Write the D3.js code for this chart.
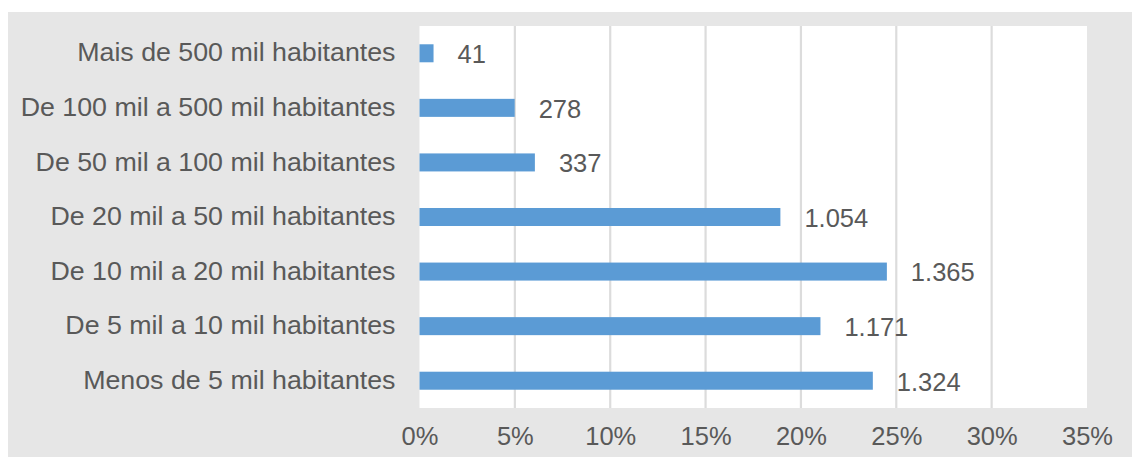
<!DOCTYPE html>
<html>
<head>
<meta charset="utf-8">
<script src="https://cdn.jsdelivr.net/npm/d3@7"></script>
<style>
  html, body { margin: 0; padding: 0; background: #ffffff; }
  svg { display: block; }
  text { font-family: "Liberation Sans", Arial, sans-serif; fill: #595959; }
</style>
</head>
<body>
<svg id="chart" width="1132" height="457"></svg>
<script>
// Municípios por faixa de população
const categories = [
  "Mais de 500 mil habitantes",
  "De 100 mil a 500 mil habitantes",
  "De 50 mil a 100 mil habitantes",
  "De 20 mil a 50 mil habitantes",
  "De 10 mil a 20 mil habitantes",
  "De 5 mil a 10 mil habitantes",
  "Menos de 5 mil habitantes"
];
const counts = [41, 278, 337, 1054, 1365, 1171, 1324];
const tickValues = [0, 0.05, 0.10, 0.15, 0.20, 0.25, 0.30, 0.35];

const total = d3.sum(counts);
const rows = categories.map((c, i) => ({ category: c, count: counts[i], share: counts[i] / total }));

const ptBR = d3.formatLocale({ decimal: ",", thousands: ".", grouping: [3], currency: ["R$", ""] });
const fmtCount = ptBR.format(",d");
const fmtPct = d3.format(".0%");

const W = 1132, H = 457;
const plot = { left: 419.5, right: 1087, top: 26, bottom: 408 };

const svg = d3.select("#chart");

// panel background
svg.append("rect").attr("x", 8).attr("y", 12).attr("width", W - 8).attr("height", H - 12).attr("fill", "#e6e6e6");
svg.append("rect")
  .attr("x", plot.left).attr("y", plot.top)
  .attr("width", plot.right - plot.left).attr("height", plot.bottom - plot.top)
  .attr("fill", "#ffffff");

const x = d3.scaleLinear().domain([0, 0.35]).range([plot.left, plot.right]);
const y = d3.scaleBand().domain(categories).range([plot.top, plot.bottom]).paddingInner(0.67).paddingOuter(0.335);

// vertical gridlines
svg.append("g")
  .selectAll("line")
  .data(tickValues.filter(t => t > 0 && t < 0.35))
  .join("line")
  .attr("x1", d => x(d)).attr("x2", d => x(d))
  .attr("y1", plot.top).attr("y2", plot.bottom)
  .attr("stroke", "#dcdcdc").attr("stroke-width", 2.2);

// bars
svg.append("g")
  .selectAll("rect")
  .data(rows)
  .join("rect")
  .attr("x", x(0))
  .attr("y", d => y(d.category))
  .attr("width", d => x(d.share) - x(0))
  .attr("height", y.bandwidth())
  .attr("fill", "#5b9bd5");

// value labels
svg.append("g")
  .selectAll("text")
  .data(rows)
  .join("text")
  .attr("x", d => x(d.share) + 24)
  .attr("y", d => y(d.category) + y.bandwidth() / 2 + 1)
  .attr("dy", "0.35em")
  .attr("font-size", 25.5)
  .text(d => fmtCount(d.count));

// x axis
const xAxis = svg.append("g")
  .attr("transform", `translate(0,${plot.bottom + 19})`)
  .call(d3.axisBottom(x).tickValues(tickValues).tickFormat(fmtPct).tickSize(0).tickPadding(0));
xAxis.select(".domain").remove();
xAxis.selectAll("text").attr("font-size", 25.5).attr("dy", "0.71em").attr("fill", "#595959");

// y axis
const yAxis = svg.append("g")
  .attr("transform", `translate(${plot.left - 24},0)`)
  .call(d3.axisLeft(y).tickSize(0).tickPadding(0));
yAxis.select(".domain").remove();
yAxis.selectAll("text").attr("font-size", 25.5).attr("fill", "#595959")
  .attr("transform", "scale(1.05,1)");
</script>
</body>
</html>
